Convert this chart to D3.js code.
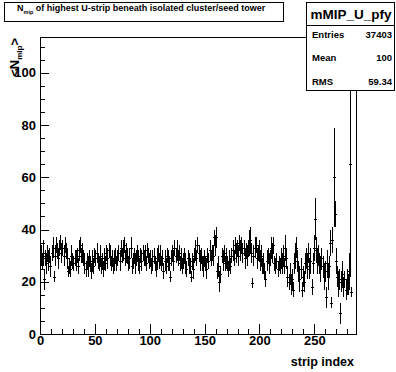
<!DOCTYPE html>
<html>
<head>
<meta charset="utf-8">
<script src="https://cdn.jsdelivr.net/npm/d3@7"></script>
<style>
  body { margin: 0; background: #fff; }
  svg text { font-family: "Liberation Sans", Arial, sans-serif; font-weight: bold; fill: #000; }
  .axis path.domain { display: none; }
  .axis line { stroke: #000; shape-rendering: crispEdges; }
</style>
</head>
<body>
<div id="chart"></div>
<script>
// profile mean of N_mip per strip (bins 0..283), blank bins at the end
const stripMeans = [
  30, 28, 31, 21, 29, 27, 31, 28, 30, 26,
  31, 33, 22, 30, 34, 32, 29, 33, 35, 31,
  33, 30, 34, 32, 29, 24, 26, 25, 30, 28,
  27, 29, 28, 30, 26, 32, 34, 30, 31, 29,
  27, 25, 28, 26, 29, 27, 24, 28, 26, 30,
  29, 31, 28, 27, 30, 26, 28, 25, 29, 27,
  31, 29, 32, 30, 27, 29, 26, 28, 30, 27,
  29, 31, 28, 33, 30, 32, 34, 29, 31, 30,
  27, 29, 33, 26, 28, 30, 27, 29, 31, 28,
  26, 30, 28, 31, 29, 30, 27, 32, 30, 28,
  29, 26, 28, 30, 27, 25, 29, 31, 28, 30,
  27, 29, 24, 28, 26, 30, 28, 27, 22, 29,
  31, 28, 33, 30, 32, 29, 31, 27, 29, 26,
  28, 30, 27, 25, 29, 27, 26, 22, 28, 25,
  30, 32, 29, 34, 31, 28, 30, 27, 26, 29,
  27, 25, 30, 28, 32, 29, 31, 30, 37, 34,
  37, 24, 26, 20, 23, 30, 28, 31, 27, 29,
  27, 25, 28, 26, 30, 32, 29, 34, 31, 33,
  30, 35, 32, 34, 31, 33, 29, 32, 30, 33,
  35, 36, 31, 19.5, 30, 33, 34, 29, 31, 32,
  28, 30, 26, 27, 24, 21, 28, 30, 27, 29,
  33, 31, 34, 27, 26, 28, 25, 27, 26, 29,
  27, 30, 26, 33, 29, 22, 20, 23, 19, 21,
  17, 27, 30, 33, 28, 24, 21, 25, 17, 22,
  20, 27, 29, 26, 31, 25, 28, 18, 27, 33,
  44, 32, 28, 30, 27, 25, 29, 26, 22, 24,
  14, 27, 22, 26, 35, 12, 36, 60, 46, 28,
  22, 19, 21, 8, 20, 23, 18, 21, 17, 20,
  19, 24, 65, 16, null, null, null, null
];

const stripErrors = [
  4, 3, 5, 4, 3, 4, 3, 4, 3, 4,
  3, 4, 2, 4, 3, 3, 4, 3, 3, 4,
  3, 4, 3, 3, 4, 2, 3, 3, 4, 3,
  3, 3, 4, 3, 3, 4, 3, 3, 4, 3,
  4, 3, 3, 4, 3, 3, 3, 4, 3, 3,
  3, 4, 3, 3, 4, 3, 3, 3, 4, 3,
  3, 4, 3, 4, 3, 3, 3, 4, 3, 3,
  3, 3, 4, 3, 3, 4, 3, 3, 4, 3,
  3, 4, 4, 3, 3, 3, 4, 3, 3, 4,
  3, 3, 4, 3, 3, 4, 3, 3, 3, 3,
  3, 3, 4, 3, 3, 3, 4, 3, 3, 4,
  3, 3, 3, 4, 3, 3, 4, 3, 2, 3,
  3, 4, 3, 3, 4, 3, 3, 3, 4, 3,
  3, 3, 4, 3, 3, 4, 3, 2, 3, 4,
  3, 4, 3, 3, 3, 4, 3, 3, 4, 3,
  3, 4, 3, 3, 4, 3, 3, 4, 3, 4,
  4, 3, 4, 4, 3, 3, 4, 3, 3, 4,
  3, 3, 4, 3, 3, 4, 3, 3, 4, 3,
  4, 3, 4, 3, 4, 3, 4, 3, 4, 3,
  5, 5, 4, 2, 4, 4, 3, 4, 3, 4,
  4, 4, 3, 4, 3, 3, 4, 3, 4, 3,
  4, 4, 3, 3, 3, 3, 3, 3, 3, 4,
  4, 4, 3, 5, 4, 4, 3, 4, 4, 4,
  3, 4, 5, 4, 4, 4, 5, 4, 3, 4,
  4, 4, 4, 5, 4, 4, 5, 3, 4, 5,
  8, 5, 5, 4, 4, 5, 4, 4, 5, 4,
  4, 5, 5, 4, 5, 2, 5, 19, 5, 5,
  4, 5, 4, 4, 4, 5, 4, 3, 4, 5,
  4, 7, 43, 2, null, null, null, null
];

const xTicks = [0, 50, 100, 150, 200, 250];
const yTicks = [0, 20, 40, 60, 80, 100];
const statLabels = ['Entries', 'Mean', 'RMS'];
const statValues = ['37403', '100', '59.34'];

const W = 396, H = 372;
const frame = {left: 40, right: 356, top: 37, bottom: 334};

const svg = d3.select('#chart').append('svg')
  .attr('width', W)
  .attr('height', H);

svg.append('rect')
  .attr('width', W).attr('height', H)
  .attr('fill', '#fff');

const x = d3.scaleLinear()
  .domain([0, 288])
  .range([frame.left, frame.right]);

const y = d3.scaleLinear()
  .domain([0, 113.7])
  .range([frame.bottom, frame.top]);

// clip for the data
svg.append('clipPath').attr('id', 'plotclip')
  .append('rect')
  .attr('x', frame.left).attr('y', frame.top)
  .attr('width', frame.right - frame.left)
  .attr('height', frame.bottom - frame.top);

const bins = stripMeans.map(function(v, i) {
  return {i: i, v: v, e: stripErrors[i]};
}).filter(function(d) { return d.v !== null; });

const marks = svg.append('g')
  .attr('clip-path', 'url(#plotclip)')
  .attr('stroke', '#000')
  .attr('stroke-width', 1)
  .attr('shape-rendering', 'crispEdges');

// vertical error bars
marks.selectAll('line.err')
  .data(bins)
  .enter().append('line')
  .attr('class', 'err')
  .attr('x1', d => Math.round(x(d.i + 0.5)) + 0.5)
  .attr('x2', d => Math.round(x(d.i + 0.5)) + 0.5)
  .attr('y1', d => y(d.v - d.e))
  .attr('y2', d => y(d.v + d.e));

// mean marks
marks.selectAll('line.mean')
  .data(bins)
  .enter().append('line')
  .attr('class', 'mean')
  .attr('x1', d => Math.round(x(d.i + 0.5)) - 1)
  .attr('x2', d => Math.round(x(d.i + 0.5)) + 2)
  .attr('y1', d => Math.round(y(d.v)) + 0.5)
  .attr('y2', d => Math.round(y(d.v)) + 0.5);

// axes, ticks pointing inward
const yAxis = svg.append('g')
  .attr('class', 'axis')
  .attr('transform', 'translate(' + frame.left + ',0)');

yAxis.call(d3.axisLeft(y)
  .tickValues(d3.range(0, 114, 5))
  .tickSize(-5)
  .tickFormat(''));

yAxis.append('g').call(d3.axisLeft(y)
  .tickValues(yTicks)
  .tickSize(-9)
  .tickPadding(4)
  .tickFormat(d3.format('d')));

yAxis.selectAll('text')
  .attr('font-size', 13)
  .attr('font-family', '"Liberation Sans", Arial, sans-serif')
  .attr('font-weight', 'bold')
  .attr('fill', '#000');

const xAxis = svg.append('g')
  .attr('class', 'axis')
  .attr('transform', 'translate(0,' + frame.bottom + ')');

xAxis.call(d3.axisBottom(x)
  .tickValues(d3.range(0, 288, 10))
  .tickSize(-5)
  .tickFormat(''));

xAxis.append('g').call(d3.axisBottom(x)
  .tickValues(xTicks)
  .tickSize(-10)
  .tickPadding(2)
  .tickFormat(d3.format('d')));

xAxis.selectAll('text')
  .attr('font-size', 13)
  .attr('font-family', '"Liberation Sans", Arial, sans-serif')
  .attr('font-weight', 'bold')
  .attr('fill', '#000');

// frame
svg.append('rect')
  .attr('x', frame.left + 0.5).attr('y', frame.top + 0.5)
  .attr('width', frame.right - frame.left)
  .attr('height', frame.bottom - frame.top)
  .attr('fill', 'none')
  .attr('stroke', '#000')
  .attr('shape-rendering', 'crispEdges');

// axis titles
svg.append('text')
  .attr('x', 354).attr('y', 366)
  .attr('text-anchor', 'end')
  .attr('font-size', 12.5)
  .text('strip index');

const yTitle = svg.append('text')
  .attr('transform', 'translate(19,' + (frame.top + 1) + ') rotate(-90)')
  .attr('text-anchor', 'end')
  .attr('font-size', 13);
yTitle.append('tspan').text('<N');
yTitle.append('tspan').attr('font-size', 8).attr('dy', 3).text('mip');
yTitle.append('tspan').attr('dy', -3).text('>');

// title box
svg.append('rect')
  .attr('x', 4.5).attr('y', 2.5)
  .attr('width', 279).attr('height', 19)
  .attr('fill', '#fff').attr('stroke', '#000')
  .attr('shape-rendering', 'crispEdges');

const title = svg.append('text')
  .attr('x', 17).attr('y', 10.5)
  .attr('font-size', 9);
title.append('tspan').text('N');
title.append('tspan').attr('font-size', 5.5).attr('dy', 3).text('mip');
title.append('tspan').attr('dy', -3).text(' of highest U-strip beneath isolated cluster/seed tower');

// stats box
const stats = svg.append('g');
stats.append('rect')
  .attr('x', 306.5).attr('y', 2.5)
  .attr('width', 88).attr('height', 88)
  .attr('fill', '#fff').attr('stroke', '#000')
  .attr('shape-rendering', 'crispEdges');
stats.append('line')
  .attr('x1', 306.5).attr('x2', 394.5)
  .attr('y1', 25.5).attr('y2', 25.5)
  .attr('stroke', '#000')
  .attr('shape-rendering', 'crispEdges');
stats.append('text')
  .attr('x', 351).attr('y', 19)
  .attr('text-anchor', 'middle')
  .attr('font-size', 13.5)
  .attr('font-weight', 'normal')
  .text('mMIP_U_pfy');

statLabels.forEach(function(lbl, k) {
  const yy = 37.5 + k * 23.7;
  stats.append('text')
    .attr('x', 312).attr('y', yy)
    .attr('font-size', 9.5)
    .text(lbl);
  stats.append('text')
    .attr('x', 392).attr('y', yy)
    .attr('text-anchor', 'end')
    .attr('font-size', 9.5)
    .text(statValues[k]);
});
</script>
</body>
</html>
